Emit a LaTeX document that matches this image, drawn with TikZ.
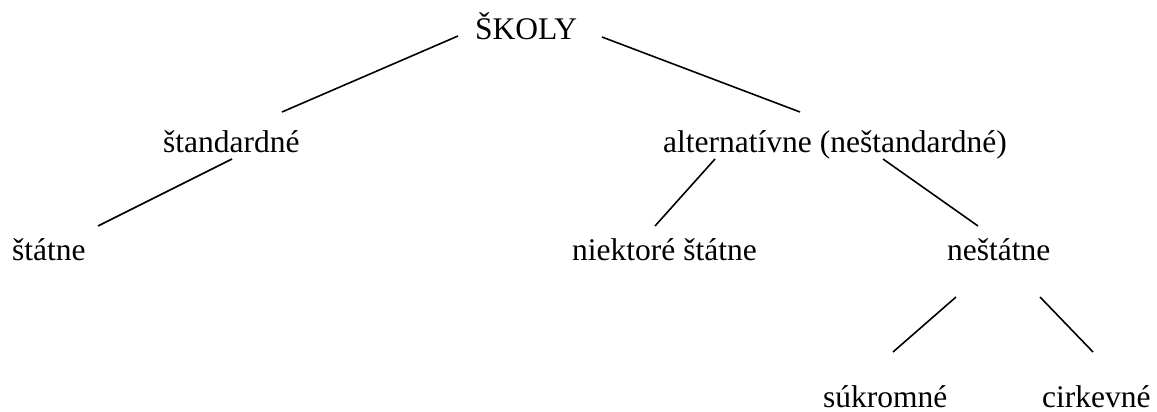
\documentclass[tikz,border=0pt]{standalone}
\usepackage{fontspec}
\setmainfont{Liberation Serif}
\begin{document}
\begin{tikzpicture}[x=1pt,y=-1pt,
  lbl/.style={anchor=base west,inner sep=0pt,font=\fontsize{31.5}{36}\selectfont},
  edge/.style={line width=1.6pt,line cap=butt}]
\useasboundingbox (0,0) rectangle (1157,412);
\node[lbl] (skoly) at (475,40) {ŠKOLY};
\node[lbl] (std) at (163,152) {štandardné};
\node[lbl] (alt) at (663,152) {alternatívne (neštandardné)};
\node[lbl] (stat) at (12,260) {štátne};
\node[lbl] (niek) at (572,260) {niektoré štátne};
\node[lbl] (nestat) at (947,260) {neštátne};
\node[lbl] (sukr) at (823,407) {súkromné};
\node[lbl] (cirk) at (1042,407) {cirkevné};
% connector end points
\coordinate (a1) at (458,36);  \coordinate (a2) at (282,112);
\coordinate (b1) at (602,37);  \coordinate (b2) at (800,112);
\coordinate (c1) at (232,159); \coordinate (c2) at (98,226);
\coordinate (d1) at (715,159); \coordinate (d2) at (655,226);
\coordinate (e1) at (883,159); \coordinate (e2) at (978,226);
\coordinate (f1) at (956,297); \coordinate (f2) at (893,352);
\coordinate (g1) at (1040,297); \coordinate (g2) at (1093,352);
\draw[edge] (a1) -- (a2);
\draw[edge] (b1) -- (b2);
\draw[edge] (c1) -- (c2);
\draw[edge] (d1) -- (d2);
\draw[edge] (e1) -- (e2);
\draw[edge] (f1) -- (f2);
\draw[edge] (g1) -- (g2);
\end{tikzpicture}
\end{document}
